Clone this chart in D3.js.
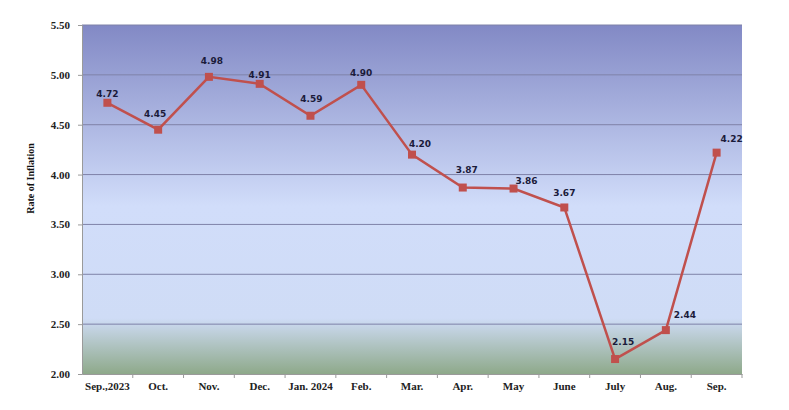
<!DOCTYPE html>
<html>
<head>
<meta charset="utf-8">
<script src="https://cdn.jsdelivr.net/npm/d3@7"></script>
<style>
  body { margin: 0; background: #fff; }
</style>
</head>
<body>
<div id="chart-area"></div>
<script>
const months = ["Sep.,2023", "Oct.", "Nov.", "Dec.", "Jan. 2024", "Feb.", "Mar.", "Apr.", "May", "June", "July", "Aug.", "Sep."];
const inflation = [4.72, 4.45, 4.98, 4.91, 4.59, 4.90, 4.20, 3.87, 3.86, 3.67, 2.15, 2.44, 4.22];
const yTicks = [2.00, 2.50, 3.00, 3.50, 4.00, 4.50, 5.00, 5.50];

// nudge of each data label (px) relative to its marker, as placed in the original
const labelDx = [0, -3, 3, 0, 1, 0, 8, 4, 13, 0, 8, 19, 15];
const labelDy = [6, 13, 13, 6, 14, 9, 8, 15, 5, 11, 14, 12, 11];

const MARGIN = { LEFT: 82, RIGHT: 47, TOP: 25, BOTTOM: 36 };
const WIDTH = 789 - MARGIN.LEFT - MARGIN.RIGHT;
const HEIGHT = 410 - MARGIN.TOP - MARGIN.BOTTOM;

const svg = d3.select("#chart-area").append("svg")
    .attr("width", 789)
    .attr("height", 410);

// background gradient
const defs = svg.append("defs");
const grad = defs.append("linearGradient")
    .attr("id", "bg")
    .attr("x1", 0).attr("y1", 0).attr("x2", 0).attr("y2", 1);
grad.append("stop").attr("offset", "0%").attr("stop-color", "#8289c5");
grad.append("stop").attr("offset", "52%").attr("stop-color", "#d1ddfa");
grad.append("stop").attr("offset", "84%").attr("stop-color", "#cfdcf6");
grad.append("stop").attr("offset", "100%").attr("stop-color", "#8ea98a");

const g = svg.append("g")
    .attr("transform", `translate(${MARGIN.LEFT}, ${MARGIN.TOP})`);

const x = d3.scaleBand()
    .domain(months)
    .range([0, WIDTH]);

const y = d3.scaleLinear()
    .domain([2, 5.5])
    .range([HEIGHT, 0]);

g.append("rect")
    .attr("width", WIDTH)
    .attr("height", HEIGHT)
    .attr("fill", "url(#bg)");

// gridlines
g.append("g")
    .selectAll("line")
    .data(yTicks.slice(1))
    .join("line")
    .attr("x1", 0)
    .attr("x2", WIDTH)
    .attr("y1", d => y(d))
    .attr("y2", d => y(d))
    .attr("stroke", "#7f82a8")
    .attr("stroke-width", 1);

// Y axis
const yAxisCall = d3.axisLeft(y)
    .tickValues(yTicks)
    .tickFormat(d3.format(".2f"))
    .tickSize(4)
    .tickPadding(8);
const yAxis = g.append("g").call(yAxisCall);
yAxis.select(".domain").attr("stroke", "#9a9a9a");
yAxis.selectAll(".tick line").attr("stroke", "#9a9a9a");
yAxis.selectAll("text")
    .attr("font-family", "Liberation Serif")
    .attr("font-weight", "700")
    .attr("font-size", "11px")
    .attr("fill", "#222");

// X axis
const xAxisCall = d3.axisBottom(x).tickSize(0).tickPadding(8);
const xAxis = g.append("g")
    .attr("transform", `translate(0, ${HEIGHT})`)
    .call(xAxisCall);
xAxis.select(".domain").attr("stroke", "#9a9a9a");
xAxis.selectAll("text")
    .attr("font-family", "Liberation Serif")
    .attr("font-weight", "700")
    .attr("font-size", "11px")
    .attr("fill", "#222");

// tick marks between categories
g.append("g")
    .selectAll("line")
    .data(months)
    .join("line")
    .attr("x1", d => x(d) + x.bandwidth())
    .attr("x2", d => x(d) + x.bandwidth())
    .attr("y1", HEIGHT)
    .attr("y2", HEIGHT + 4)
    .attr("stroke", "#9a9a9a");

// y label
g.append("text")
    .attr("x", -(HEIGHT / 2) + 21)
    .attr("y", -48)
    .attr("transform", "rotate(-90)")
    .attr("text-anchor", "middle")
    .attr("font-family", "Liberation Serif")
    .attr("font-weight", "700")
    .attr("font-size", "10px")
    .attr("fill", "#111")
    .text("Rate of Inflation");

// line
const line = d3.line()
    .x((d, i) => x(months[i]) + x.bandwidth() / 2)
    .y(d => y(d));

g.append("path")
    .datum(inflation)
    .attr("d", line)
    .attr("fill", "none")
    .attr("stroke", "#c0504d")
    .attr("stroke-width", 2.5);

// markers
g.selectAll(".marker")
    .data(inflation)
    .join("rect")
    .attr("class", "marker")
    .attr("x", (d, i) => x(months[i]) + x.bandwidth() / 2 - 4)
    .attr("y", d => y(d) - 4)
    .attr("width", 8)
    .attr("height", 8)
    .attr("fill", "#c0504d");

// data labels
g.selectAll(".label")
    .data(inflation)
    .join("text")
    .attr("class", "label")
    .attr("x", (d, i) => x(months[i]) + x.bandwidth() / 2 + labelDx[i])
    .attr("y", (d, i) => y(d) - labelDy[i])
    .attr("text-anchor", "middle")
    .attr("font-family", "DejaVu Sans")
    .attr("font-weight", "700")
    .attr("font-size", "9px")
    .attr("fill", "#1b1b3a")
    .text(d => d3.format(".2f")(d));
</script>
</body>
</html>
